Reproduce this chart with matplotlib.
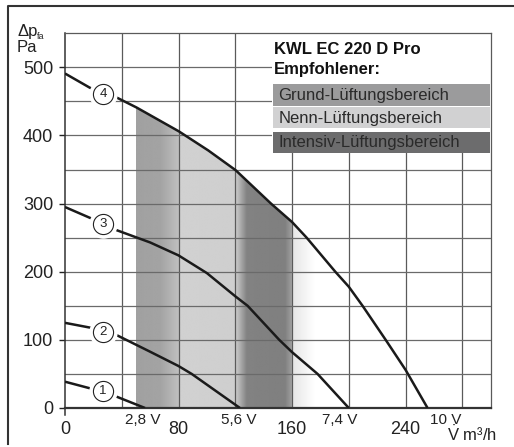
import numpy as np
import matplotlib.pyplot as plt
from matplotlib.patches import Rectangle, Polygon
from matplotlib.lines import Line2D

plt.rcParams['font.family'] = ['Liberation Sans', 'DejaVu Sans']
plt.rcParams['mathtext.fontset'] = 'custom'
plt.rcParams['mathtext.rm'] = 'Liberation Sans'

# Kennlinien: Volumenstrom [m3/h], Druck [Pa]
x1 = [0, 17.6, 36.4, 56.4]
y1 = [38.6, 28.9, 16.6, 0]
x2 = [0, 17.6, 36.4, 60, 80, 89.3, 123.3]
y2 = [125, 118, 107, 82.6, 61.6, 50, 0]
x3 = [0, 18.8, 36.4, 60, 80, 100, 120, 128.7, 151, 160, 178, 200]
y3 = [295, 278, 261, 243, 224, 198, 164, 150, 100, 82, 50, 0]
x4 = [0, 17.6, 35.2, 50.5, 80.3, 101, 120.3, 145.2, 160, 170.3, 190.5, 200, 209.7, 226, 240, 255.5]
y4 = [491, 470, 457, 441, 406, 378, 349, 300, 273, 250, 200, 178, 150, 100, 56, 0]

curve_x = [x1, x2, x3, x4]
curve_y = [y1, y2, y3, y4]
curve_names = ['1', '2', '3', '4']
name_x = 26.8
name_y = [25, 112, 270, 461]

volt_labels = ['2,8 V', '5,6 V', '7,4 V', '10 V']
volt_shift = [-2, -1, -6.5, 13]   # points, relative to curve end

xticks = [0, 80, 160, 240]
yticks = [0, 100, 200, 300, 400, 500]

legend_title = 'KWL EC 220 D Pro'
legend_sub = 'Empfohlener:'
legend_items = ['Grund-Lüftungsbereich', 'Nenn-Lüftungsbereich', 'Intensiv-Lüftungsbereich']
legend_cols = ['#9b9b9c', '#d1d1d2', '#6c6c6d']

fig = plt.figure(figsize=(5.14, 4.47), dpi=100)
ax = fig.add_axes([65/514, 1-408/447, (490.7-65)/514, (408-33.3)/447])
ax.set_xlim(0, 300)
ax.set_ylim(0, 550)

# grid
for gx in range(40, 300, 40):
    ax.axvline(gx, color='#5a5a5a', lw=0.9, zorder=1)
for gy in range(50, 550, 50):
    ax.axhline(gy, color='#6a6a6a', lw=0.9, zorder=1)

# shading under curve 4 (Grund / Nenn / Intensiv)
gx = np.linspace(50, 176, 600)
kx = [50, 67, 80, 80.6, 120, 128, 155, 159.6, 160.4, 176]
kv = [0.63, 0.64, 0.75, 0.82, 0.81, 0.51, 0.50, 0.62, 0.90, 1.0]
grey = np.interp(gx, kx, kv)
img = np.tile(grey, (2, 1))
im = ax.imshow(img, cmap='gray', vmin=0, vmax=1, extent=[50, 176, 0, 550],
               aspect='auto', zorder=0.5, interpolation='bilinear')
sel = [(a, b) for a, b in zip(x4, y4) if 50 <= a <= 176]
clip = [(50, 0), (50, np.interp(50, x4, y4))] + sel + [(176, np.interp(176, x4, y4)), (176, 0)]
poly = Polygon(clip, closed=True, transform=ax.transData, fc='none', ec='none')
ax.add_patch(poly)
im.set_clip_path(poly)

# curves with circled numbers
for cx, cy, nm, ny in zip(curve_x, curve_y, curve_names, name_y):
    ax.plot(cx, cy, color='#1a1a1a', lw=1.8, zorder=3, solid_capstyle='butt')
    ax.plot([name_x], [ny], 'o', ms=19.5, mfc='white', mec='white', zorder=3.2)
    ax.plot([name_x], [ny], 'o', ms=14.5, mfc='white', mec='#222222', mew=0.8, zorder=3.3)
    ax.text(name_x, ny, nm, ha='center', va='center', fontsize=9.5, color='#222222', zorder=3.4)

# voltage labels at curve ends
for cx, lab, sh in zip(curve_x, volt_labels, volt_shift):
    ax.annotate(lab, (cx[-1], 0), xytext=(sh, -3.5), textcoords='offset points',
                ha='center', va='top', fontsize=11, color='#222222', annotation_clip=False)

# legend box
ax.add_patch(Rectangle((146, 374), 154, 176, fc='white', ec='none', zorder=2))
ax.text(147, 519, legend_title, fontsize=12, fontweight='bold', color='#111111', zorder=5)
ax.text(147, 490, legend_sub, fontsize=12, fontweight='bold', color='#111111', zorder=5)
bar_y = [444, 410.6, 374]
for by, lab, col in zip(bar_y, legend_items, legend_cols):
    ax.add_patch(Rectangle((146.6, by), 152.8, 31, fc=col, ec='none', zorder=4))
    ax.text(150.3, by + 15, lab, fontsize=12, va='center', color='#2a2a2a', zorder=5)

# axes styling
ax.set_xticks(xticks)
ax.set_yticks(yticks)
ax.tick_params(axis='x', length=0, pad=9, labelsize=13, colors='#222222')
ax.tick_params(axis='y', length=4.5, width=1, pad=4, labelsize=13, colors='#222222')
for s in ['top', 'right']:
    ax.spines[s].set_color('#5a5a5a')
    ax.spines[s].set_linewidth(0.9)
ax.spines['left'].set_color('#333333')
ax.spines['left'].set_linewidth(1.1)
ax.spines['left'].set_bounds(-10, 550)
ax.spines['bottom'].set_color('#333333')
ax.spines['bottom'].set_linewidth(1.6)

# axis titles
fig.text(17/514, 1-36/447, 'Δp', fontsize=12, va='baseline', color='#222222')
fig.text(37/514, 1-39/447, 'fa', fontsize=6.5, va='baseline', color='#222222')
fig.text(17/514, 1-52/447, 'Pa', fontsize=12, va='baseline', color='#222222')
fig.text(447/514, 1-441/447, r'$\dot{\mathrm{V}}$ m³/h', fontsize=12, va='baseline',
         color='#222222')

# outer frame (left and top)
fig.add_artist(Line2D([8/514, 8/514, 1], [3/447, 1-6/447, 1-6/447],
                      transform=fig.transFigure, color='#333333', lw=1.5))

fig.savefig('out.png', dpi=100)
